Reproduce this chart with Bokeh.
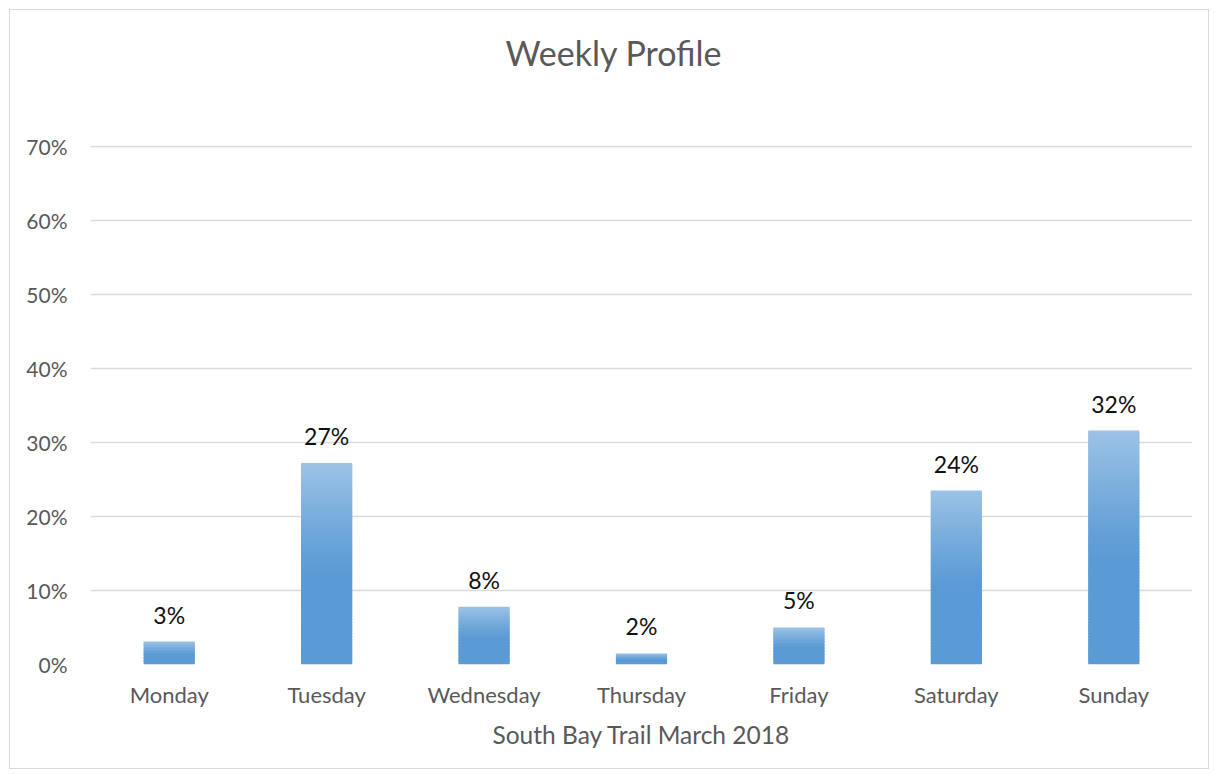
from bokeh.plotting import figure
from bokeh.models import FactorRange, Range1d, NumeralTickFormatter, ColumnDataSource, LabelSet, FixedTicker, Title
from bokeh.core.properties import value
from bokeh.embed import file_html
from bokeh.resources import INLINE

# ---- data ----
days = ["Monday", "Tuesday", "Wednesday", "Thursday", "Friday", "Saturday", "Sunday"]
shares = [0.031, 0.272, 0.078, 0.015, 0.050, 0.235, 0.316]
y_ticks = [0.0, 0.1, 0.2, 0.3, 0.4, 0.5, 0.6, 0.7]
title_text = "Weekly Profile"
x_title = "South Bay Trail March 2018"

FONT = "Lato"
BASE = (0x5B, 0x9B, 0xD5)
LIGHT = (0x9D, 0xC3, 0xE6)
SLICES_PER_UNIT = 250   # number of gradient slices for a bar of height 1.0 (100%)
START = 0.45
BAR_W = 0.325

def mix(t):
    return "#%02x%02x%02x" % tuple(int(round(b + (l - b) * t)) for b, l in zip(BASE, LIGHT))

p = figure(width=1200, height=760, x_range=FactorRange(*days, range_padding=0),
           y_range=Range1d(0, 0.701), output_backend="svg", toolbar_location=None, title=None,
           min_border_left=80, min_border_right=18, min_border_bottom=106, min_border_top=135)
p.margin = (9, 0, 0, 9)
p.styles = {"border": "1.5px solid #d9d9d9"}
p.outline_line_color = None

# gradient bars: each bar built from uniformly overlapping horizontal slices
xs, bots, tops, cols = [], [], [], []
for d, v in zip(days, shares):
    n = max(6, int(round(v * SLICES_PER_UNIT)))
    for k in range(n):
        lo = k / n
        hi = min((k + 1.6) / n, 1.0)
        s = (k + 0.5) / n
        t = 0.0 if s < START else ((s - START) / (1 - START)) ** 1.2
        xs.append(d)
        bots.append(v * lo)
        tops.append(v * hi)
        cols.append(mix(t))
p.vbar(x=xs, bottom=bots, top=tops, width=BAR_W, fill_color=cols, line_color=None)

# data labels
src = ColumnDataSource(dict(x=days, y=shares, t=["%d%%" % int(v * 100 + 0.5) for v in shares]))
p.add_layout(LabelSet(x="x", y="y", text="t", source=src, y_offset=27, text_align="center",
                      text_baseline="middle", text_font=value(FONT), text_font_size="23px",
                      text_color="#111111"))

# axes / grid
p.yaxis.ticker = FixedTicker(ticks=y_ticks)
p.yaxis.formatter = NumeralTickFormatter(format="0%")
p.yaxis.axis_line_color = None
p.yaxis.major_tick_line_color = None
p.yaxis.minor_tick_line_color = None
p.yaxis.major_tick_out = 0
p.yaxis.major_tick_in = 0
p.yaxis.major_label_standoff = 23
p.yaxis.major_label_text_font = FONT
p.yaxis.major_label_text_font_size = "21px"
p.yaxis.major_label_text_color = "#595959"

p.xaxis.axis_line_color = None
p.xaxis.major_tick_line_color = None
p.xaxis.major_tick_out = 0
p.xaxis.major_tick_in = 0
p.xaxis.major_label_standoff = 16
p.xaxis.major_label_text_font = FONT
p.xaxis.major_label_text_font_size = "22px"
p.xaxis.major_label_text_color = "#595959"
p.xaxis.axis_label = x_title
p.xaxis.axis_label_standoff = 9
p.xaxis.axis_label_text_font = FONT
p.xaxis.axis_label_text_font_size = "24.5px"
p.xaxis.axis_label_text_font_style = "normal"
p.xaxis.axis_label_text_color = "#595959"

p.xgrid.grid_line_color = None
p.ygrid.grid_line_color = "#d9d9d9"
p.ygrid.grid_line_width = 1.5

# spacer between frame and title (closest to the frame), then the title itself
p.add_layout(Title(text=" ", text_font_size="1px", standoff=60), "above")
p.add_layout(Title(text=title_text, align="left", offset=415, standoff=20,
                   text_font=FONT, text_font_size="34px", text_font_style="normal",
                   text_color="#595959"), "above")

open("out.html", "w").write(file_html(p, INLINE))
